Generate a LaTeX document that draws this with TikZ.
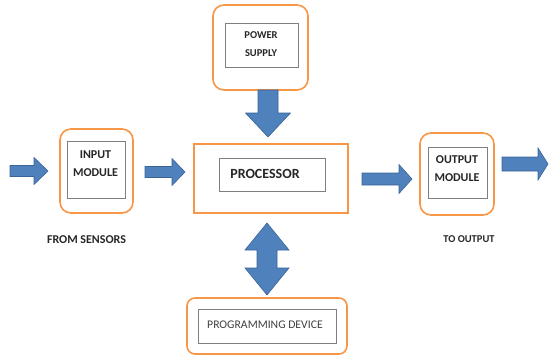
\documentclass[tikz,border=0pt]{standalone}
\usepackage{fontspec}
\setmainfont{Carlito}
\definecolor{boxorange}{HTML}{F79646}
\definecolor{arrowblue}{HTML}{4F81BD}
\definecolor{arrowedge}{HTML}{3A6496}
\definecolor{innergray}{HTML}{7F7F7F}
\tikzset{
  outerbox/.style={draw=boxorange, line width=1.6pt, rounded corners=11pt, fill=white, inner sep=0pt},
  innerbox/.style={draw=innergray, line width=1pt, fill=white, inner sep=0pt},
  blocktext/.style={font=\bfseries\fontsize{12}{18}\selectfont, text=black!85, align=center, inner sep=0pt},
  caption/.style={font=\bfseries\fontsize{12}{14}\selectfont, text=black!85},
  blockarrow/.style={fill=arrowblue, draw=arrowedge, line width=0.6pt, line join=miter},
}
% straight block arrow: #1 tail, #2 rotation, #3 length,
% #4 shaft half width, #5 head half width, #6 head length
\newcommand\blockarrow[6]{%
  \begin{scope}[shift={(#1)}, rotate=#2]
    \filldraw[blockarrow] (0,-#4) -- ({#3-#6},-#4) -- ({#3-#6},-#5) -- (#3,0)
      -- ({#3-#6},#5) -- ({#3-#6},#4) -- (0,#4) -- cycle;
  \end{scope}}
\begin{document}
\begin{tikzpicture}[x=1pt, y=-1pt]
  \useasboundingbox (0,0) rectangle (552,356);

  % input module
  \node[outerbox, minimum width=73pt, minimum height=84pt] (inO) at (96.5,171) {};
  \node[innerbox, minimum width=58pt, minimum height=57pt] (inI) at (96,169.5) {};
  \node[blocktext] (inT) at (95.5,164) {INPUT\\MODULE};
  \node[caption] (sens) at (86.5,240) {FROM SENSORS};

  % power supply
  \node[outerbox, minimum width=95pt, minimum height=85pt] (pwO) at (260.5,47.5) {};
  \node[innerbox, minimum width=73pt, minimum height=44pt] (pwI) at (261.5,45) {};
  \node[blocktext, font=\bfseries\fontsize{10.5}{18}\selectfont] (pwT) at (261,44) {POWER\\SUPPLY};

  % processor
  \node[outerbox, rounded corners=0pt, minimum width=154pt, minimum height=69pt] (prO) at (271,178.5) {};
  \node[innerbox, minimum width=106pt, minimum height=33pt] (prI) at (272,174.5) {};
  \node[blocktext, font=\bfseries\fontsize{14}{16}\selectfont] (prT) at (265,173.5) {PROCESSOR};

  % output module
  \node[outerbox, minimum width=74pt, minimum height=82pt] (outO) at (457,174) {};
  \node[innerbox, minimum width=59pt, minimum height=51pt] (outI) at (457.5,172.5) {};
  \node[blocktext] (outT) at (457,168.5) {OUTPUT\\MODULE};
  \node[caption, font=\bfseries\fontsize{10.5}{12}\selectfont] (toout) at (469,239) {TO OUTPUT};

  % programming device
  \node[outerbox, rounded corners=8pt, minimum width=160pt, minimum height=56pt] (pgO) at (267,326) {};
  \node[innerbox, minimum width=138pt, minimum height=34pt] (pgI) at (267,326) {};
  \node[anchor=west, font=\fontsize{11.7}{13}\selectfont, text=black!75, inner sep=0pt] (pgT) at (207,324.5) {PROGRAMMING DEVICE};

  % signal flow arrows
  \coordinate (a1) at (10,171);
  \coordinate (a2) at (145,172);
  \coordinate (a3) at (362,179);
  \coordinate (a4) at (502,164);
  \coordinate (a5) at (268,90);
  \blockarrow{a1}{0}{38}{5.5}{13.5}{14}
  \blockarrow{a2}{0}{40}{5.5}{13.5}{13}
  \blockarrow{a3}{0}{50}{6}{14.5}{13}
  \blockarrow{a4}{0}{46}{7}{16}{10}
  \blockarrow{a5}{-90}{47}{10}{22.5}{24}

  % two-way link between processor and programming device
  \coordinate (dm) at (267,259);
  \begin{scope}[shift={(dm)}]
    \filldraw[blockarrow] (-10,-9) -- (-22,-9) -- (0,-36) -- (22,-9) -- (10,-9)
      -- (10,9) -- (22,9) -- (0,36) -- (-22,9) -- (-10,9) -- cycle;
  \end{scope}
\end{tikzpicture}
\end{document}
